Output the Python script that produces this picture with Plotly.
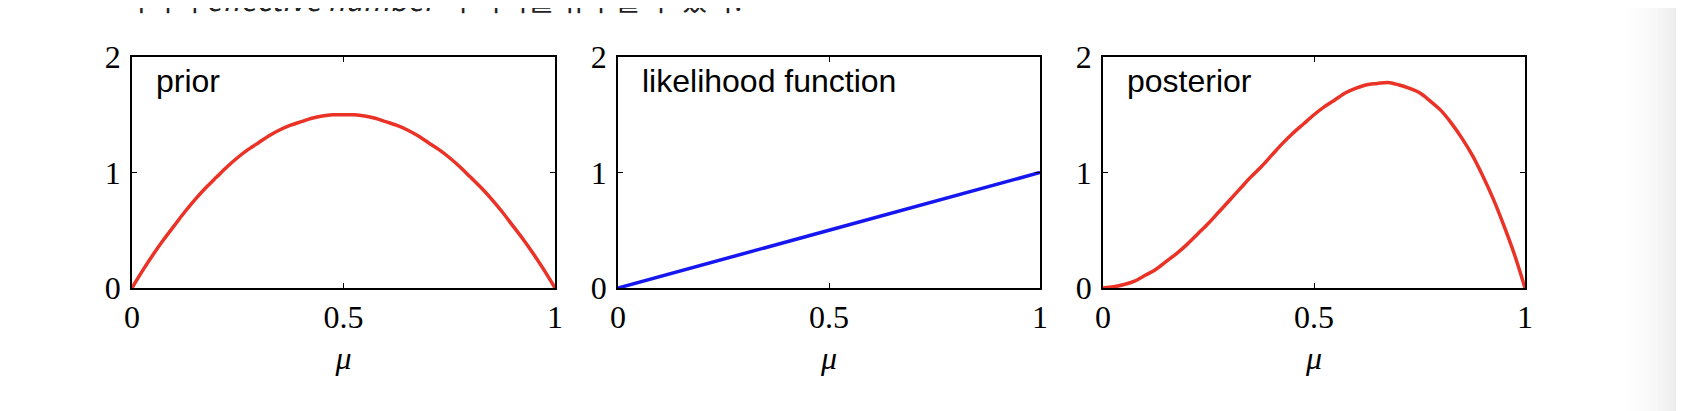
import plotly.graph_objects as go

# ---- data ----
mu = [0.0, 0.025, 0.05, 0.075, 0.10, 0.125, 0.15, 0.175, 0.20, 0.225, 0.25,
      0.275, 0.30, 0.325, 0.35, 0.375, 0.40, 0.425, 0.45, 0.475, 0.50,
      0.525, 0.55, 0.575, 0.60, 0.625, 0.65, 0.675, 0.70, 0.725, 0.75,
      0.775, 0.80, 0.825, 0.85, 0.875, 0.90, 0.925, 0.95, 0.975, 1.0]
prior = [0.0, 0.15, 0.29, 0.42, 0.54, 0.66, 0.77, 0.87, 0.96, 1.05, 1.13,
         1.20, 1.26, 1.32, 1.37, 1.41, 1.44, 1.47, 1.49, 1.50, 1.50,
         1.50, 1.49, 1.47, 1.44, 1.41, 1.37, 1.32, 1.26, 1.20, 1.13,
         1.05, 0.96, 0.87, 0.77, 0.66, 0.54, 0.42, 0.29, 0.15, 0.0]
mu_lik = [0.0, 0.5, 1.0]
likelihood = [0.0, 0.5, 1.0]
posterior = [0.0, 0.01, 0.03, 0.06, 0.11, 0.16, 0.23, 0.30, 0.38, 0.47, 0.56,
             0.66, 0.76, 0.86, 0.96, 1.05, 1.15, 1.25, 1.34, 1.42, 1.50,
             1.57, 1.63, 1.69, 1.73, 1.76, 1.77, 1.78, 1.76, 1.73, 1.69,
             1.62, 1.54, 1.43, 1.30, 1.15, 0.97, 0.77, 0.54, 0.29, 0.0]
panel_labels = ["prior", "likelihood function", "posterior"]
x_ticks = [0, 0.5, 1]
x_tick_text = ["0", "0.5", "1"]
y_ticks = [0, 1, 2]
y_tick_text = ["0", "1", "2"]
header_text = "- 여기서 <i>effective number</i> 의 의미를 유추할 수 있다."

RED = "rgb(234,50,38)"
BLUE = "rgb(22,22,240)"

W, H = 1684, 411
OFF = 8  # page body margin: window pixel = figure pixel + OFF

# target window-pixel geometry of the panels
P_TOP, P_BOT = 57, 288
PANELS_X = [(132, 555), (618, 1040), (1103, 1525)]

ML = PANELS_X[0][0] - OFF
MR = W - (PANELS_X[2][1] - OFF)
MT = P_TOP - OFF
MB = H - (P_BOT - OFF)
PW = W - ML - MR
PH = H - MT - MB

def px_x(wx):
    return (wx - OFF - ML) / PW

def px_y(wy):
    return 1 - (wy - OFF - MT) / PH

domains = [[px_x(a), px_x(b)] for a, b in PANELS_X]

fig = go.Figure()
series = [(mu, prior, RED), (mu_lik, likelihood, BLUE), (mu, posterior, RED)]
for i, (xs, ys, col) in enumerate(series):
    sfx = "" if i == 0 else str(i + 1)
    fig.add_trace(go.Scatter(x=xs, y=ys, mode="lines",
                             line=dict(color=col, width=3.5, shape="spline", smoothing=0.9),
                             xaxis="x" + sfx, yaxis="y" + sfx, showlegend=False,
                             hoverinfo="skip", cliponaxis=False))

tickfont = dict(family="Liberation Serif", size=32, color="black")
axis_common = dict(showgrid=False, zeroline=False, showline=True, linecolor="black",
                   linewidth=1.6, mirror="ticks", ticks="inside", ticklen=5,
                   tickwidth=1.2, tickcolor="black", tickfont=tickfont,
                   automargin=False)

layout = dict(width=W, height=H, margin=dict(l=ML, r=MR, t=MT, b=MB, autoexpand=False),
              paper_bgcolor="white", plot_bgcolor="white", showlegend=False)

for i in range(3):
    sfx = "" if i == 0 else str(i + 1)
    layout["xaxis" + sfx] = dict(axis_common, domain=domains[i], range=[0, 1],
                                 tickvals=x_ticks, ticktext=x_tick_text,
                                 anchor="y" + sfx, ticklabelstandoff=0,
                                 title=dict(text="<i>μ</i>",
                                            font=dict(family="Liberation Serif", size=32, color="black"),
                                            standoff=12))
    layout["yaxis" + sfx] = dict(axis_common, domain=[0, 1], range=[0, 2],
                                 tickvals=y_ticks, ticktext=y_tick_text,
                                 anchor="x" + sfx, ticklabelstandoff=3)

fig.update_layout(**layout)

for i, lab in enumerate(panel_labels):
    sfx = "" if i == 0 else str(i + 1)
    fig.add_annotation(x=0.052, y=1.79, xref="x" + sfx, yref="y" + sfx, text=lab,
                       showarrow=False, xanchor="left", yanchor="middle",
                       font=dict(family="Liberation Sans", size=32, color="black"))

# header text line (partially cut off at top of the screenshot)
fig.add_annotation(x=px_x(101), y=px_y(21.5), xref="paper", yref="paper",
                   text=header_text, showarrow=False, xanchor="left", yanchor="bottom",
                   font=dict(family="Noto Sans CJK KR", size=29, color="#222222"))

# right-edge page shading
n = 24
x0 = 1610
for k in range(n):
    a = x0 + (W + OFF - x0) * k / n
    b = x0 + (W + OFF - x0) * (k + 1) / n
    t = ((k + 0.5) / n) ** 2.2
    g = int(round(255 - 30 * t))
    fig.add_shape(type="rect", xref="paper", yref="paper",
                  x0=px_x(a), x1=px_x(b) + 0.0005,
                  y0=px_y(H + 20), y1=px_y(-20),
                  fillcolor=f"rgb({g},{g},{g})", line=dict(width=0), layer="below")

fig.write_html("out.html")
